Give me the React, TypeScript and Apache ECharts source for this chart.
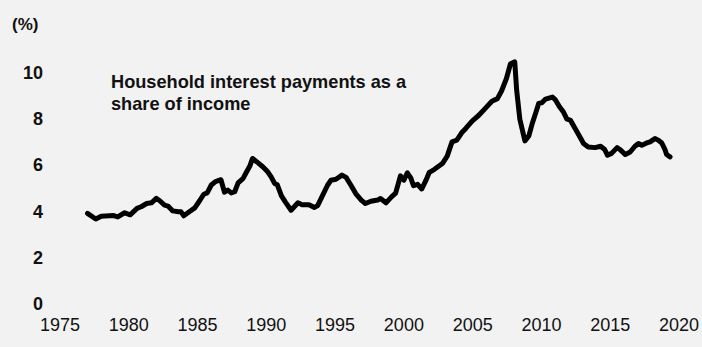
import React, { useEffect, useRef } from "react";
import * as echarts from "echarts";

const years: number[] = [
  1977.0, 1977.6, 1978.0, 1978.9, 1979.2, 1979.7, 1980.1, 1980.6, 1980.9, 1981.3,
  1981.65, 1982.0, 1982.25, 1982.6, 1982.85, 1983.2, 1983.6, 1983.8, 1984.0, 1984.4,
  1984.8, 1985.15, 1985.45, 1985.7, 1986.0, 1986.3, 1986.7, 1986.96, 1987.2, 1987.45,
  1987.7, 1987.95, 1988.3, 1988.5, 1988.8, 1989.0, 1989.4, 1989.74, 1990.1, 1990.35,
  1990.6, 1990.8, 1991.1, 1991.4, 1991.8, 1992.3, 1992.6, 1993.1, 1993.5, 1993.73,
  1994.1, 1994.45, 1994.7, 1995.06, 1995.5, 1995.8, 1996.15, 1996.5, 1996.9, 1997.2,
  1997.6, 1998.1, 1998.3, 1998.7, 1999.1, 1999.4, 1999.75, 2000.0, 2000.25, 2000.5,
  2000.7, 2001.0, 2001.3, 2001.6, 2001.85, 2002.2, 2002.8, 2003.15, 2003.5, 2003.85,
  2004.2, 2004.5, 2004.96, 2005.45, 2005.9, 2006.4, 2006.8, 2007.1, 2007.45, 2007.75,
  2008.06, 2008.2, 2008.43, 2008.8, 2009.08, 2009.35, 2009.6, 2009.8, 2010.05, 2010.3,
  2010.8, 2011.0, 2011.3, 2011.6, 2011.85, 2012.1, 2012.45, 2012.8, 2013.06, 2013.4,
  2013.9, 2014.3, 2014.6, 2014.8, 2015.1, 2015.5, 2015.7, 2016.1, 2016.45, 2016.8,
  2017.05, 2017.3, 2017.65, 2017.9, 2018.25, 2018.5, 2018.75, 2019.0, 2019.1, 2019.35,
];

const interestShare: number[] = [
  3.92, 3.68, 3.8, 3.83, 3.77, 3.95, 3.86, 4.14, 4.21, 4.35,
  4.38, 4.57, 4.47, 4.28, 4.24, 4.03, 3.99, 3.99, 3.82, 3.99,
  4.16, 4.47, 4.75, 4.81, 5.15, 5.3, 5.38, 4.84, 4.93, 4.81,
  4.86, 5.24, 5.43, 5.65, 5.97, 6.3, 6.11, 5.94, 5.72, 5.5,
  5.22, 5.16, 4.68, 4.4, 4.06, 4.38, 4.3, 4.3, 4.18, 4.26,
  4.71, 5.14, 5.36, 5.4, 5.58, 5.48, 5.14, 4.78, 4.5, 4.35,
  4.45, 4.5, 4.57, 4.38, 4.64, 4.8, 5.55, 5.36, 5.68, 5.46,
  5.12, 5.18, 4.98, 5.35, 5.7, 5.82, 6.08, 6.4, 7.02, 7.09,
  7.41, 7.6, 7.92, 8.17, 8.46, 8.78, 8.89, 9.22, 9.75, 10.4,
  10.48, 9.25, 8.0, 7.06, 7.27, 7.85, 8.3, 8.68, 8.72, 8.87,
  8.96, 8.85, 8.55, 8.31, 8.0, 7.96, 7.6, 7.23, 6.95, 6.8,
  6.77, 6.83, 6.69, 6.44, 6.52, 6.77, 6.69, 6.47, 6.58, 6.83,
  6.95, 6.87, 6.97, 7.02, 7.16, 7.09, 6.97, 6.66, 6.47, 6.37,
];

const unitLabel = "(%)";
const annotationLines: string[] = ["Household interest payments as a", "share of income"];

const FONT = "'Liberation Sans', Arial, Helvetica, sans-serif";

export default function App() {
  const ref = useRef<HTMLDivElement>(null);

  useEffect(() => {
    document.body.style.margin = "0";
    if (!ref.current) return;
    const chart = echarts.init(ref.current, undefined, { renderer: "svg" });
    const seriesData = years.map((y, i) => [y, interestShare[i]]);
    chart.setOption({
      animation: false,
      backgroundColor: "#f2f2f2",
      textStyle: { fontFamily: FONT },
      grid: { left: 60, right: 21, top: 73, bottom: 43, containLabel: false },
      xAxis: {
        type: "value",
        min: 1975,
        max: 2020,
        interval: 5,
        axisLine: { show: false },
        axisTick: { show: false },
        splitLine: { show: false },
        axisLabel: {
          color: "#111",
          fontSize: 18,
          fontFamily: FONT,
          margin: 12,
          showMinLabel: true,
          showMaxLabel: true,
          formatter: (v: number) => String(Math.round(v)),
        },
      },
      yAxis: {
        type: "value",
        min: 0,
        max: 10,
        interval: 2,
        axisLine: { show: false },
        axisTick: { show: false },
        splitLine: { show: false },
        axisLabel: {
          color: "#111",
          fontSize: 18,
          fontWeight: "bold",
          fontFamily: FONT,
          margin: 17,
        },
      },
      graphic: [
        {
          type: "text",
          left: 12,
          top: 16,
          style: {
            text: unitLabel,
            fill: "#111",
            font: `bold 17px ${FONT}`,
          },
        },
        {
          type: "text",
          left: 111,
          top: 71,
          style: {
            text: annotationLines.join("\n"),
            fill: "#111",
            font: `bold 18.2px ${FONT}`,
            lineHeight: 22,
          },
        },
      ],
      series: [
        {
          type: "line",
          data: seriesData,
          showSymbol: false,
          symbol: "none",
          smooth: false,
          clip: false,
          lineStyle: { color: "#000", width: 5, join: "round", cap: "round" },
        },
      ],
    });
    return () => chart.dispose();
  }, []);

  return (
    <div
      ref={ref}
      style={{ position: "fixed", left: 0, top: 0, width: 702, height: 347 }}
    />
  );
}
